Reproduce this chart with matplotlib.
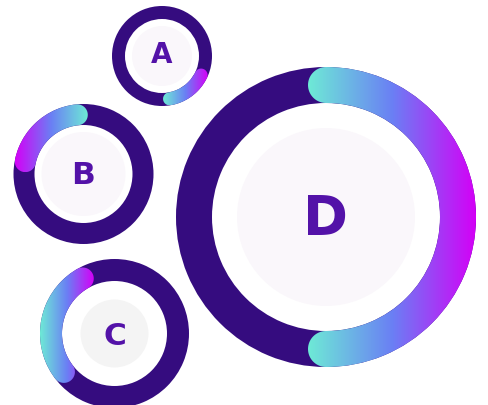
import numpy as np
import matplotlib.pyplot as plt
from matplotlib.patches import Wedge, Circle
from matplotlib.path import Path
from matplotlib.colors import LinearSegmentedColormap

# ring data
labels = ['A', 'B', 'C', 'D']
values = [15, 20, 27, 50]          # percent of the ring covered by the arc
start_angles = [-80, 96, 120, -90]  # degrees, arc runs counter-clockwise

# layout (pixel units, y pointing down)
centers = [(162, 56), (83.5, 174), (114.5, 333.5), (326, 217)]
outer_r = [50, 70, 74.5, 150]
ring_w = [13, 21, 22, 36]
disk_r = [30, 42, 34, 89]
disk_colors = ['#faf7fb', '#faf7fb', '#f4f4f4', '#faf7fb']
font_sizes = [20, 22.5, 22.5, 39]
text_dy = [-3, -1, 0.5, -2.5]
flip_grad = [False, True, False, False]

TRACK = '#350c7f'
TEXT = '#5312a8'
grad = LinearSegmentedColormap.from_list('ring', ['#6eead6', '#6a80f4', '#d400f7'])


def pt(cx, cy, r, ang):
    a = np.radians(ang)
    return cx + r * np.cos(a), cy - r * np.sin(a)


def arc_path(cx, cy, r_out, w, t1, t2):
    r_in = r_out - w
    rm = r_out - w / 2
    n = 200
    xs, ys = [], []
    for a in np.linspace(t1, t2, n):
        x, y = pt(cx, cy, r_out, a)
        xs.append(x); ys.append(y)
    ex, ey = pt(cx, cy, rm, t2)
    for p in np.linspace(t2, t2 + 180, 40):
        x, y = pt(ex, ey, w / 2, p)
        xs.append(x); ys.append(y)
    for a in np.linspace(t2, t1, n):
        x, y = pt(cx, cy, r_in, a)
        xs.append(x); ys.append(y)
    sx, sy = pt(cx, cy, rm, t1)
    for p in np.linspace(t1 + 180, t1 + 360, 40):
        x, y = pt(sx, sy, w / 2, p)
        xs.append(x); ys.append(y)
    verts = np.column_stack([xs, ys])
    verts = np.vstack([verts, verts[:1]])
    codes = [Path.MOVETO] + [Path.LINETO] * (len(verts) - 2) + [Path.CLOSEPOLY]
    return Path(verts, codes)


fig = plt.figure(figsize=(4.88, 4.05), dpi=100)
ax = fig.add_axes([0, 0, 1, 1])
ax.set_xlim(0, 488)
ax.set_ylim(405, 0)
ax.set_aspect('equal')
ax.axis('off')

gradient = np.linspace(0, 1, 256).reshape(1, -1)

for i, lab in enumerate(labels):
    cx, cy = centers[i]
    R, w = outer_r[i], ring_w[i]
    ax.add_patch(Wedge((cx, cy), R, 0, 360, width=w, facecolor=TRACK, edgecolor='none', zorder=1))
    ax.add_patch(Circle((cx, cy), disk_r[i], facecolor=disk_colors[i], edgecolor='none', zorder=1))

    t1 = start_angles[i]
    t2 = t1 + values[i] * 3.6
    path = arc_path(cx, cy, R, w, t1, t2)
    ext = path.get_extents()
    g = gradient[:, ::-1] if flip_grad[i] else gradient
    im = ax.imshow(g, cmap=grad, aspect='auto', interpolation='bilinear',
                   extent=(ext.x0, ext.x1, ext.y1, ext.y0), zorder=2)
    im.set_clip_path(path, transform=ax.transData)

    fs = font_sizes[i]
    cap = fs / 0.72 * 0.729
    ax.text(cx, cy + cap / 2 + text_dy[i], lab, ha='center', va='baseline',
            fontsize=fs, fontweight='bold', color=TEXT, family='DejaVu Sans', zorder=3)

ax.set_xlim(0, 488)
ax.set_ylim(405, 0)
fig.savefig('out.png', dpi=100)
